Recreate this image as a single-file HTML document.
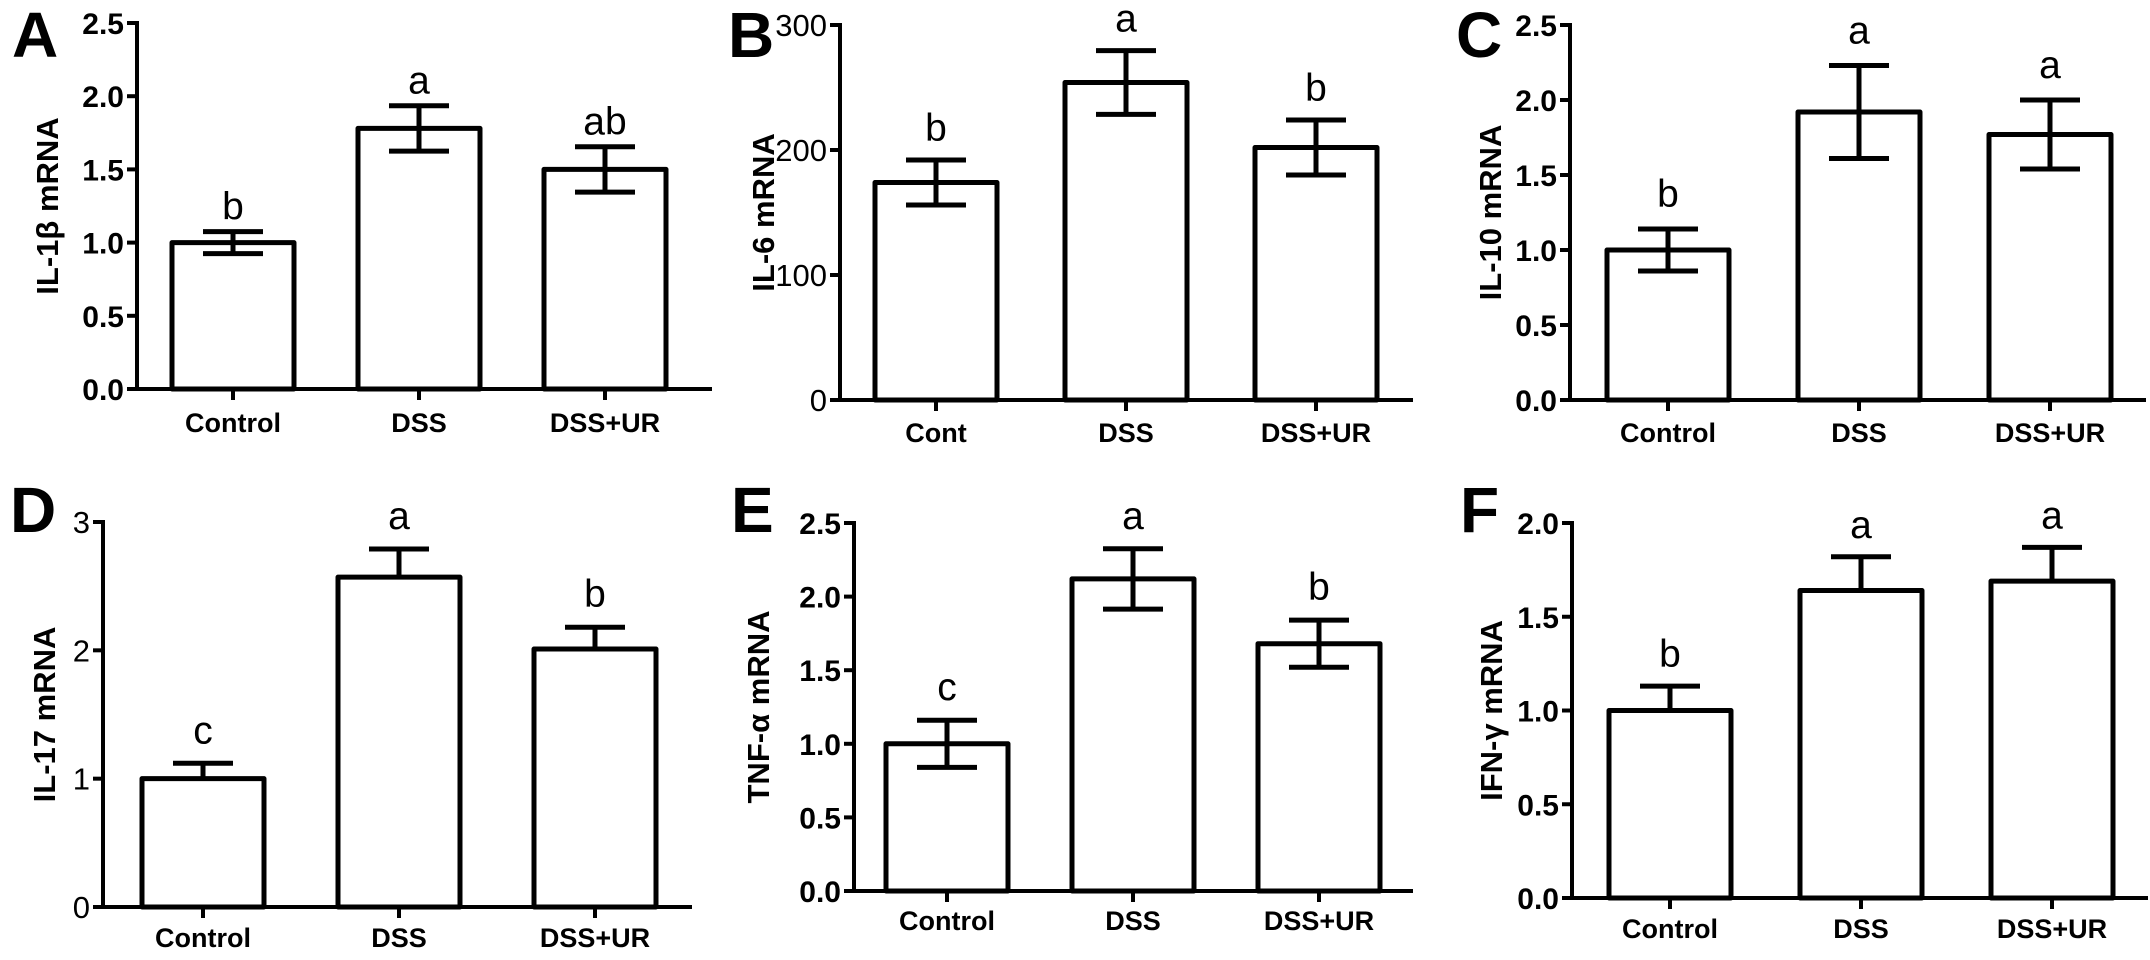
<!DOCTYPE html>
<html><head><meta charset="utf-8"><style>
html,body{margin:0;padding:0;background:#fff;}
svg{display:block;font-family:"Liberation Sans",Arial,sans-serif;}
</style></head><body>
<svg id="fig" width="2150" height="960" viewBox="0 0 2150 960"></svg>
<script>
const categories = ["Control","DSS","DSS+UR"];
const categoriesB = ["Cont","DSS","DSS+UR"];
const valuesA = [1.00, 1.78, 1.50];
const errorsA = [0.075, 0.155, 0.155];
const lettersA = ["b","a","ab"];
const ticksA = ["0.0","0.5","1.0","1.5","2.0","2.5"];
const valuesB = [174, 254, 202];
const errorsB = [18, 25.5, 22];
const lettersB = ["b","a","b"];
const ticksB = ["0","100","200","300"];
const valuesC = [1.00, 1.92, 1.77];
const errorsC = [0.14, 0.31, 0.23];
const lettersC = ["b","a","a"];
const ticksC = ["0.0","0.5","1.0","1.5","2.0","2.5"];
const valuesD = [1.00, 2.57, 2.01];
const errorsD = [0.12, 0.22, 0.17];
const lettersD = ["c","a","b"];
const ticksD = ["0","1","2","3"];
const valuesE = [1.00, 2.12, 1.68];
const errorsE = [0.16, 0.205, 0.16];
const lettersE = ["c","a","b"];
const ticksE = ["0.0","0.5","1.0","1.5","2.0","2.5"];
const valuesF = [1.00, 1.64, 1.69];
const errorsF = [0.13, 0.18, 0.18];
const lettersF = ["b","a","a"];
const ticksF = ["0.0","0.5","1.0","1.5","2.0"];

const NS = "http://www.w3.org/2000/svg";
const svg = document.getElementById("fig");
function mk(tag, attrs, parent){
  const e = document.createElementNS(NS, tag);
  for (const k in attrs) e.setAttribute(k, attrs[k]);
  (parent||svg).appendChild(e);
  return e;
}

const panels = [
 {id:"a", letter:"A", lx:12, ly:57, title:"IL-1\u03b2 mRNA", tx:58, ax:137, y0:389, yTop:23, yMax:2.5, xEnd:712, c0:96, sp:186, bold:true, both:true, gap:12, labY:432, cats:categories, vals:valuesA, errs:errorsA, lets:lettersA, ticks:ticksA},
 {id:"b", letter:"B", lx:728, ly:57, title:"IL-6 mRNA", tx:774, ax:840, y0:400, yTop:25, yMax:300, xEnd:1413, c0:96, sp:190, bold:false, both:true, gap:19, labY:442, cats:categoriesB, vals:valuesB, errs:errorsB, lets:lettersB, ticks:ticksB},
 {id:"c", letter:"C", lx:1456, ly:57, title:"IL-10 mRNA", tx:1501, ax:1570, y0:400, yTop:25, yMax:2.5, xEnd:2146, c0:98, sp:191, bold:true, both:true, gap:22, labY:442, cats:categories, vals:valuesC, errs:errorsC, lets:lettersC, ticks:ticksC},
 {id:"d", letter:"D", lx:10, ly:532, title:"IL-17 mRNA", tx:55, ax:103, y0:907, yTop:522, yMax:3, xEnd:692, c0:100, sp:196, bold:false, both:false, gap:20, labY:947, cats:categories, vals:valuesD, errs:errorsD, lets:lettersD, ticks:ticksD},
 {id:"e", letter:"E", lx:731, ly:532, title:"TNF-\u03b1 mRNA", tx:769, ax:854, y0:891, yTop:523, yMax:2.5, xEnd:1413, c0:93, sp:186, bold:true, both:true, gap:20, labY:930, cats:categories, vals:valuesE, errs:errorsE, lets:lettersE, ticks:ticksE},
 {id:"f", letter:"F", lx:1460, ly:532, title:"IFN-\u03b3 mRNA", tx:1502, ax:1572, y0:898, yTop:523, yMax:2.0, xEnd:2148, c0:98, sp:191, bold:true, both:false, gap:19, labY:938, cats:categories, vals:valuesF, errs:errorsF, lets:lettersF, ticks:ticksF}
];

panels.forEach(p => {
  const g = mk("g", {});
  
  
  const y = v => p.y0 - (v / p.yMax) * (p.y0 - p.yTop);
  const x = i => p.ax + p.c0 + i * p.sp;

  const L = mk("text", {x:p.lx, y:p.ly, "font-size":64, "font-weight":"bold", fill:"#000"}, g);
  L.textContent = p.letter;
  
  

  const cy = (p.y0 + p.yTop) / 2;
  const T = mk("text", {x:p.tx, y:cy, "font-size":31, "font-weight":"bold", "text-anchor":"middle", transform:`rotate(-90 ${p.tx} ${cy})`}, g);
  T.textContent = p.title;
  
  

  p.vals.forEach((v, i) => {
    const bw = 122;
    const r = mk("rect", {x:x(i)-bw/2, y:y(v), width:bw, height:p.y0 - y(v), fill:"#fff", stroke:"#000", "stroke-width":5, "stroke-linejoin":"round"}, g);
    
    
    const e = p.errs[i];
    const hi = y(v + e), lo = p.both ? y(v - e) : y(v);
    const eg = mk("g", {stroke:"#000", "stroke-width":5}, g);
    
    
    mk("line", {x1:x(i), x2:x(i), y1:hi, y2:lo}, eg);
    mk("line", {x1:x(i)-30, x2:x(i)+30, y1:hi, y2:hi}, eg);
    if (p.both) mk("line", {x1:x(i)-30, x2:x(i)+30, y1:lo, y2:lo}, eg);
    const t = mk("text", {x:x(i), y:hi - p.gap, "font-size":39, "text-anchor":"middle"}, g);
    t.textContent = p.lets[i];
    
    
    const tk = mk("line", {x1:x(i), x2:x(i), y1:p.y0, y2:p.y0 + 11, stroke:"#000", "stroke-width":4}, g);
    
    
    const cl = mk("text", {x:x(i), y:p.labY, "font-size":27, "font-weight":"bold", "text-anchor":"middle"}, g);
    cl.textContent = p.cats[i];
    
    
  });

  const ya = mk("line", {x1:p.ax, x2:p.ax, y1:p.yTop - 2, y2:p.y0 + 2, stroke:"#000", "stroke-width":4}, g);
  
  
  const xa = mk("line", {x1:p.ax - 2, x2:p.xEnd, y1:p.y0, y2:p.y0, stroke:"#000", "stroke-width":4}, g);
  
  

  p.ticks.forEach(s => {
    const v = parseFloat(s), ty = y(v);
    const tl = mk("line", {x1:p.ax - 10, x2:p.ax, y1:ty, y2:ty, stroke:"#000", "stroke-width":4}, g);
    
    
    const tt = mk("text", {x:p.ax - 13, y:ty + 11, "font-size":p.bold ? 30 : 31, "font-weight":p.bold ? "bold" : "normal", "text-anchor":"end"}, g);
    tt.textContent = s;
    
    
  });
});
</script>
</body></html>
